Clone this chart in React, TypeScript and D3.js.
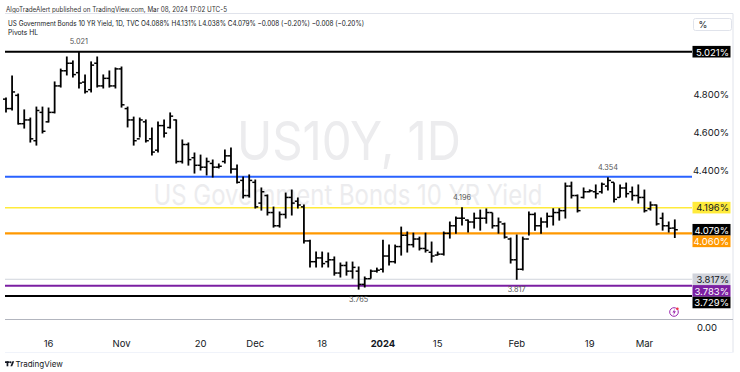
import React from 'react';
import * as d3 from 'd3';

const dates = [
  '2023-10-05','2023-10-06','2023-10-09','2023-10-10','2023-10-11','2023-10-12','2023-10-13',
  '2023-10-16','2023-10-17','2023-10-18','2023-10-19','2023-10-20',
  '2023-10-23','2023-10-24','2023-10-25','2023-10-26','2023-10-27',
  '2023-10-30','2023-10-31','2023-11-01','2023-11-02','2023-11-03',
  '2023-11-06','2023-11-07','2023-11-08','2023-11-09','2023-11-10',
  '2023-11-13','2023-11-14','2023-11-15','2023-11-16','2023-11-17',
  '2023-11-20','2023-11-21','2023-11-22','2023-11-23','2023-11-24',
  '2023-11-27','2023-11-28','2023-11-29','2023-11-30','2023-12-01',
  '2023-12-04','2023-12-05','2023-12-06','2023-12-07','2023-12-08',
  '2023-12-11','2023-12-12','2023-12-13','2023-12-14','2023-12-15',
  '2023-12-18','2023-12-19','2023-12-20','2023-12-21','2023-12-22',
  '2023-12-26','2023-12-27','2023-12-28','2023-12-29',
  '2024-01-01','2024-01-02','2024-01-03','2024-01-04','2024-01-05',
  '2024-01-08','2024-01-09','2024-01-10','2024-01-11','2024-01-12',
  '2024-01-15','2024-01-16','2024-01-17','2024-01-18','2024-01-19',
  '2024-01-22','2024-01-23','2024-01-24','2024-01-25','2024-01-26',
  '2024-01-29','2024-01-30','2024-01-31','2024-02-01','2024-02-02',
  '2024-02-05','2024-02-06','2024-02-07','2024-02-08','2024-02-09',
  '2024-02-12','2024-02-13','2024-02-14','2024-02-15','2024-02-16',
  '2024-02-19','2024-02-20','2024-02-21','2024-02-22','2024-02-23',
  '2024-02-26','2024-02-27','2024-02-28','2024-02-29','2024-03-01',
  '2024-03-04','2024-03-05','2024-03-06','2024-03-07','2024-03-08',
];

const opens = [
  4.77,4.72,4.79,4.64,4.66,4.55,4.70,4.65,4.70,4.84,
  4.92,4.96,4.91,4.86,4.82,4.96,4.84,4.88,4.84,4.93,
  4.72,4.66,4.56,4.65,4.56,4.50,4.63,4.62,4.66,4.44,
  4.53,4.46,4.42,4.41,4.43,4.41,4.44,4.47,4.40,4.34,
  4.26,4.33,4.22,4.26,4.17,4.10,4.16,4.25,4.23,4.20,
  4.02,3.91,3.93,3.91,3.92,3.85,3.89,3.86,3.86,3.79,
  3.82,3.86,3.87,3.94,3.91,3.99,4.05,4.00,4.03,3.98,
  3.96,3.945,3.95,4.06,4.10,4.14,4.13,4.12,4.14,4.14,
  4.17,4.10,4.11,4.03,3.92,3.87,4.03,4.16,4.10,4.12,
  4.15,4.17,4.18,4.31,4.26,4.25,4.28,4.28,4.28,4.31,
  4.33,4.25,4.30,4.28,4.26,4.25,4.19,4.21,4.14,4.10,
  4.088,
];

const highs = [
  4.776,4.892,4.797,4.713,4.670,4.728,4.728,4.723,4.861,4.929,
  4.993,4.972,5.021,4.898,4.967,4.993,4.898,4.919,4.935,4.940,
  4.728,4.675,4.670,4.660,4.617,4.649,4.660,4.697,4.660,4.554,
  4.538,4.485,4.474,4.458,4.448,4.427,4.501,4.511,4.421,4.358,
  4.369,4.342,4.300,4.263,4.199,4.173,4.273,4.289,4.247,4.210,
  4.024,3.961,3.961,3.956,3.935,3.903,3.908,3.908,3.882,3.829,
  3.866,3.876,4.024,3.998,3.998,4.093,4.067,4.061,4.040,4.061,
  4.014,3.961,4.067,4.120,4.146,4.196,4.130,4.167,4.183,4.189,
  4.167,4.141,4.114,4.035,4.051,4.040,4.173,4.167,4.141,4.167,
  4.190,4.190,4.326,4.331,4.263,4.300,4.290,4.316,4.326,4.354,
  4.326,4.316,4.326,4.305,4.316,4.289,4.226,4.210,4.167,4.120,
  4.131,
];

const lows = [
  4.702,4.713,4.638,4.617,4.543,4.527,4.591,4.649,4.697,4.834,
  4.898,4.887,4.829,4.802,4.808,4.834,4.829,4.834,4.829,4.728,
  4.623,4.527,4.570,4.543,4.474,4.490,4.570,4.617,4.432,4.432,
  4.421,4.379,4.395,4.369,4.358,4.406,4.432,4.379,4.326,4.247,
  4.252,4.194,4.183,4.157,4.093,4.093,4.141,4.157,4.194,4.009,
  3.882,3.882,3.882,3.882,3.839,3.829,3.839,3.823,3.765,3.776,
  3.823,3.855,3.855,3.892,3.903,3.945,3.961,3.988,3.972,3.961,
  3.908,3.945,3.945,4.035,4.061,4.104,4.067,4.088,4.077,4.114,
  4.088,4.061,4.035,3.903,3.817,3.866,4.051,4.077,4.061,4.093,
  4.104,4.130,4.141,4.247,4.173,4.247,4.280,4.247,4.273,4.289,
  4.226,4.252,4.252,4.236,4.220,4.173,4.183,4.104,4.077,4.067,
  4.038,
];

const closes = [
  4.72,4.808,4.64,4.66,4.56,4.71,4.60,4.70,4.84,4.92,
  4.96,4.90,4.855,4.81,4.95,4.84,4.88,4.84,4.93,4.74,
  4.66,4.55,4.66,4.55,4.49,4.63,4.59,4.68,4.44,4.53,
  4.45,4.42,4.41,4.44,4.41,4.415,4.47,4.40,4.33,4.26,
  4.34,4.20,4.28,4.17,4.10,4.16,4.25,4.22,4.21,4.02,
  3.91,3.93,3.90,3.92,3.85,3.89,3.86,3.88,3.79,3.82,
  3.86,3.865,3.94,3.91,3.99,4.05,4.00,4.03,3.98,3.97,
  3.94,3.95,4.06,4.10,4.14,4.14,4.12,4.14,4.14,4.17,
  4.10,4.12,4.04,3.92,3.87,4.03,4.16,4.10,4.12,4.15,
  4.17,4.18,4.31,4.26,4.18,4.28,4.285,4.27,4.32,4.34,
  4.24,4.30,4.27,4.26,4.25,4.18,4.21,4.11,4.10,4.087,
  4.079,
];

const tickDates = ['2023-10-16','2023-11-01','2023-11-20','2023-12-01','2023-12-18','2024-01-02','2024-01-15','2024-02-01','2024-02-19','2024-03-01'];
const tickLabels = ['16','Nov','20','Dec','18','2024','15','Feb','19','Mar'];

const priceTicks = [4.8, 4.6, 4.4];

const levelValues = [5.021, 4.36, 4.196, 4.06, 3.817, 3.783, 3.729];
const levelColors = ['#000000', '#2962ff', '#ffeb3b', '#ff9800', '#d1d4dc', '#7b1fa2', '#000000'];

const axisLabelValues = [5.021, 4.196, 4.079, 4.06, 3.817, 3.783, 3.729];
const axisLabelBg = ['#000000', '#ffeb3b', '#000000', '#ff9800', '#d1d4dc', '#7b1fa2', '#000000'];
const axisLabelFg = ['#ffffff', '#131722', '#ffffff', '#ffffff', '#131722', '#ffffff', '#ffffff'];

const pivotDates = ['2023-10-23', '2023-12-27', '2024-01-19', '2024-02-01', '2024-02-22'];
const pivotKinds = ['H', 'L', 'H', 'L', 'H'];

const headerLine1 = 'AlgoTradeAlert published on TradingView.com, Mar 08, 2024 17:02 UTC-5';
const headerLine2 = 'US Government Bonds 10 YR Yield, 1D, TVC  O4.088%  H4.131%  L4.038%  C4.079%  \u22120.008 (\u22120.20%)  \u22120.008 (\u22120.20%)';
const headerLine3 = 'Pivots HL';
const watermark1 = 'US10Y, 1D';
const watermark2 = 'US Government Bonds 10 YR Yield';

const FONT = 'Inter, "Noto Sans", Roboto, sans-serif';

export default function App() {
  const W = 740, H = 372;
  const plotLeft = 5, plotRight = 692;
  const axisRight = 733;
  const y = d3.scaleLinear().domain([3.783, 5.021]).range([285.7, 51.7]);
  const x = d3.scaleLinear().domain([0, dates.length - 1]).range([6, 674.8]);
  const idx = (d: string) => dates.indexOf(d);

  const levelWidths = [2, 2, 1.5, 2.2, 1, 2, 2];

  const boxH = 11.6;
  const order = axisLabelValues.map((v, i) => i).sort((a, b) => y(axisLabelValues[a]) - y(axisLabelValues[b]));
  const labelY: number[] = new Array(axisLabelValues.length);
  let prev = -Infinity;
  order.forEach((i) => {
    const yy = Math.max(y(axisLabelValues[i]), prev + boxH);
    labelY[i] = yy;
    prev = yy;
  });

  return (
    <svg width={W} height={H} style={{ position: 'absolute', left: 0, top: 0, background: '#fff' }} fontFamily={FONT}>
      <rect x={0} y={0} width={W} height={H} fill="#ffffff" />
      <text x={6} y={9.5} fontSize={7} fill="#333" dominantBaseline="central" textLength={221} lengthAdjust="spacingAndGlyphs">{headerLine1}</text>
      <line x1={5} x2={axisRight} y1={13.5} y2={13.5} stroke="#e0e3eb" strokeWidth={1} />
      <line x1={axisRight} x2={axisRight} y1={13.5} y2={352.5} stroke="#e0e3eb" strokeWidth={1} />
      <line x1={5} x2={axisRight} y1={352.5} y2={352.5} stroke="#f0f3fa" strokeWidth={1} />
      <text x={8} y={23.3} fontSize={7.3} fill="#131722" dominantBaseline="central" textLength={356} lengthAdjust="spacingAndGlyphs">{headerLine2}</text>
      <text x={8} y={32.5} fontSize={7.3} fill="#131722" dominantBaseline="central" textLength={30} lengthAdjust="spacingAndGlyphs">{headerLine3}</text>

      <rect x={693.5} y={18.5} width={38} height={12} rx={2} fill="#fff" stroke="#e0e3eb" />
      <text x={703} y={24.5} fontSize={9} fill="#131722" textAnchor="middle" dominantBaseline="central">%</text>

      <text x={349} y={140} fontSize={54} fill="#ececee" textAnchor="middle" dominantBaseline="central" textLength={224} lengthAdjust="spacingAndGlyphs">{watermark1}</text>
      <text x={348} y={195} fontSize={28} fill="#ececee" textAnchor="middle" dominantBaseline="central" textLength={389} lengthAdjust="spacingAndGlyphs">{watermark2}</text>

      {levelValues.map((v, i) => (
        <line key={'lv' + i} x1={plotLeft} x2={plotRight} y1={y(v)} y2={y(v)} stroke={levelColors[i]} strokeWidth={levelWidths[i]} />
      ))}

      {dates.map((d, i) => {
        const cx = x(i);
        return (
          <g key={d}>
            <line x1={cx} x2={cx} y1={y(highs[i]) - 0.5} y2={y(lows[i]) + 0.5} stroke="#000" strokeWidth={1.8} />
            <line x1={cx - 3} x2={cx} y1={y(opens[i])} y2={y(opens[i])} stroke="#000" strokeWidth={1.5} />
            <line x1={cx} x2={cx + 3} y1={y(closes[i])} y2={y(closes[i])} stroke="#000" strokeWidth={1.5} />
          </g>
        );
      })}

      {pivotDates.map((d, k) => {
        const i = idx(d);
        const isHigh = pivotKinds[k] === 'H';
        const v = isHigh ? highs[i] : lows[i];
        const yy = isHigh ? y(v) - 10 : y(v) + 10;
        return (
          <text key={'pv' + k} x={x(i)} y={yy} fontSize={7.3} fill="#555" textAnchor="middle" dominantBaseline="central">{v.toFixed(3)}</text>
        );
      })}

      {priceTicks.map((v) => (
        <text key={'pt' + v} x={729} y={y(v) + 1} fontSize={9.5} fill="#131722" textAnchor="end" dominantBaseline="central">{v.toFixed(3) + '%'}</text>
      ))}

      {axisLabelValues.map((v, i) => (
        <g key={'al' + i}>
          <rect x={692.5} y={labelY[i] - boxH / 2} width={38} height={boxH} fill={axisLabelBg[i]} />
          <text x={729} y={labelY[i] + 0.3} fontSize={9.5} fill={axisLabelFg[i]} textAnchor="end" dominantBaseline="central">{v.toFixed(3) + '%'}</text>
        </g>
      ))}

      <line x1={5} x2={axisRight} y1={319.5} y2={319.5} stroke="#b2b5be" strokeWidth={1} />
      <text x={707} y={327} fontSize={9.5} fill="#131722" textAnchor="middle" dominantBaseline="central">0.00</text>
      <g>
        <circle cx={674} cy={312} r={4.3} fill="#fff" stroke="#9c27b0" strokeWidth={1} />
        <path d="M 675 308.6 L 672.4 312.6 L 674.1 312.6 L 673.2 315.4 L 675.9 311.2 L 674.2 311.2 Z" fill="#9c27b0" />
        <circle cx={677.4} cy={308.8} r={1.3} fill="#f23645" />
      </g>

      {tickDates.map((d, k) => (
        <text key={'xt' + k} x={x(idx(d))} y={343} fontSize={9.5} fill="#131722" textAnchor="middle" dominantBaseline="central" fontWeight={tickLabels[k] === '2024' ? 700 : 400}>{tickLabels[k]}</text>
      ))}

      <g fill="#131722">
        <rect x={5} y={361.3} width={4.6} height={1.7} />
        <rect x={6.6} y={361.3} width={1.7} height={5} />
        <circle cx={10.6} cy={362.2} r={0.95} />
        <polygon points="10.4,366.3 12.4,361.3 14.2,361.3 12.2,366.3" />
      </g>
      <text x={15.5} y={364} fontSize={8} fill="#131722" dominantBaseline="central">TradingView</text>
    </svg>
  );
}
